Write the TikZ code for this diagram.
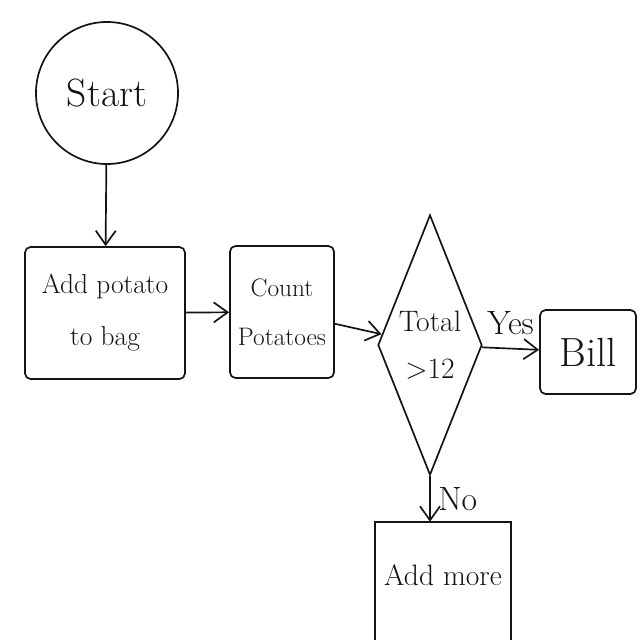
\documentclass[tikz,border=0pt]{standalone}
\usepackage{tikz}
\usetikzlibrary{arrows.meta,positioning,calc,shapes.geometric}
\definecolor{PInk}{HTML}{141414}

\begin{document}
\begin{tikzpicture}[x=0.025cm,y=-0.025cm,
    ink/.style={PInk,line width=1.2pt},
    flow/.style={ink,-{Straight Barb[length=3.5mm,width=5mm]}},
    stepbox/.style={ink,draw,rounded corners=4pt,align=center,inner sep=2pt},
    tag/.style={PInk,font=\fontsize{24}{28}\selectfont}]
    \useasboundingbox (0,0) rectangle (640,640);
    \fill[white] (0,0) rectangle (640,640);
    % start
    \node[ink,draw,circle,minimum size=3.55cm,font=\fontsize{28}{32}\selectfont] (start) at (107,93) {Start};
    % steps
    \node[stepbox,minimum width=4cm,minimum height=3.3cm,font=\fontsize{19.5}{37}\selectfont] (add) at (105,313) {Add potato\\to bag};
    \node[stepbox,minimum width=2.6cm,minimum height=3.3cm,font=\fontsize{18}{35}\selectfont] (count) at (282,312) {Count\\Potatoes};
    % decision
    \node[ink,draw,diamond,aspect=0.4,inner sep=0pt,minimum width=2.6cm,minimum height=6.5cm,
          align=center,font=\fontsize{21}{33}\selectfont] (check) at (430,345) {Total\\$>$12};
    \node[stepbox,minimum width=2.4cm,minimum height=2.1cm,font=\fontsize{29}{32}\selectfont] (bill) at (588,352) {Bill};
    \node[PInk,minimum width=3.4cm,minimum height=2.65cm,font=\fontsize{21}{24}\selectfont] (more) at (443,575) {Add more};
    \draw[ink] ($(more.south west)+(0,30)$) -- (more.north west) -- (more.north east) -- ($(more.south east)+(0,30)$);
    % flow
    \draw[flow] (start) -- (add);
    \draw[flow] (add) -- (count);
    \draw[flow] (count) -- (check);
    \draw[flow] (check) -- node[tag,above=6pt] {Yes} (bill);
    \draw[flow] (check.south) -- node[tag,right=2pt] {No} (check.south |- more.north);
\end{tikzpicture}
\end{document}
